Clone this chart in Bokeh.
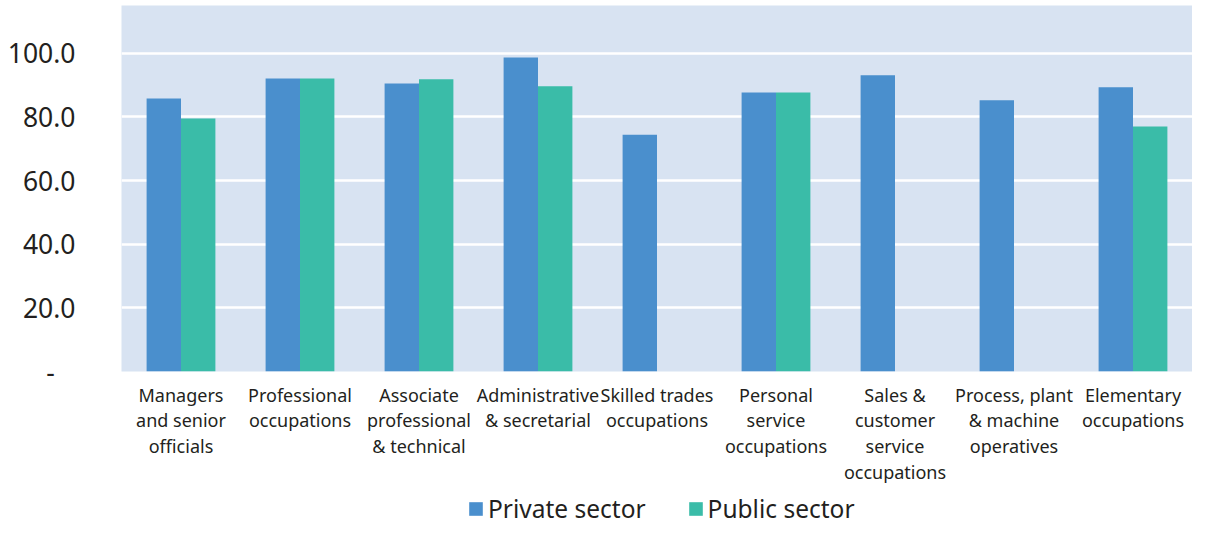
from bokeh.plotting import figure
from bokeh.models import ColumnDataSource, Legend, LegendItem, FixedTicker, NumeralTickFormatter, Range1d
from bokeh.layouts import column
from bokeh.transform import dodge
from bokeh.embed import file_html
from bokeh.resources import INLINE

categories = [
    "Managers\nand senior\nofficials",
    "Professional\noccupations",
    "Associate\nprofessional\n& technical",
    "Administrative\n& secretarial",
    "Skilled trades\noccupations",
    "Personal\nservice\noccupations",
    "Sales &\ncustomer\nservice\noccupations",
    "Process, plant\n& machine\noperatives",
    "Elementary\noccupations",
]
private_sector = [85.8, 92.1, 90.5, 98.7, 74.4, 87.7, 93.1, 85.2, 89.3]
public_sector = [79.5, 92.1, 91.8, 89.6, None, 87.7, None, None, 77.0]
y_ticks = [0, 20, 40, 60, 80, 100]
series_names = ["Private sector", "Public sector"]

FONT = "Noto Sans"
TXT = "#231F20"
C_PRIV = "#4A8FCD"
C_PUB = "#3ABCA8"

H1 = 490
p = figure(x_range=categories, y_range=Range1d(0, 115), width=1192, height=H1,
           output_backend="svg", toolbar_location=None,
           min_border_left=121, min_border_right=0, min_border_top=5,
           min_border_bottom=H1 - 371)

priv_src = ColumnDataSource(dict(cat=categories, val=private_sector))
pub_cats = [c for c, v in zip(categories, public_sector) if v is not None]
pub_vals = [v for v in public_sector if v is not None]
pub_src = ColumnDataSource(dict(cat=pub_cats, val=pub_vals))

p.vbar(x=dodge("cat", -0.1445, range=p.x_range), top="val", width=0.289,
       source=priv_src, fill_color=C_PRIV, line_color=None)
p.vbar(x=dodge("cat", 0.1445, range=p.x_range), top="val", width=0.289,
       source=pub_src, fill_color=C_PUB, line_color=None)

p.background_fill_color = "#D8E3F2"
p.border_fill_color = "white"
p.outline_line_color = None
p.xgrid.grid_line_color = None
p.ygrid.grid_line_color = "white"
p.ygrid.grid_line_width = 2.5

p.yaxis.ticker = FixedTicker(ticks=y_ticks)
p.yaxis.formatter = NumeralTickFormatter(format="0.0")
p.yaxis.major_label_overrides = {0: "-\u00a0\u00a0\u00a0"}
for ax in (p.xaxis, p.yaxis):
    ax.axis_line_color = None
    ax.major_tick_line_color = None
    ax.minor_tick_line_color = None
    ax.major_tick_out = 0
    ax.major_tick_in = 0
    ax.major_label_text_font = FONT
    ax.major_label_text_color = TXT
p.yaxis.major_label_text_font_size = "26.5px"
p.yaxis.major_label_standoff = 46
p.xaxis.major_label_text_font_size = "18px"
p.xaxis.major_label_standoff = 11
p.xaxis.major_label_text_line_height = 1.07

# legend strip (frames of the column are aligned, so its frame starts at x=121)
H2 = 526 - H1
pl = figure(width=1192, height=H2, output_backend="svg", toolbar_location=None,
            x_range=Range1d(0, 1), y_range=Range1d(0, 1),
            min_border=0, min_border_left=0, min_border_right=0,
            min_border_top=0, min_border_bottom=0)
pl.axis.visible = False
pl.grid.visible = False
pl.outline_line_color = None
pl.background_fill_color = "white"
pl.border_fill_color = "white"
nan = float("nan")
d1 = pl.vbar(x=[nan], top=[nan], width=0.1, fill_color=C_PRIV, line_color=None)
d2 = pl.vbar(x=[nan], top=[nan], width=0.1, fill_color=C_PUB, line_color=None)

legend = Legend(items=[LegendItem(label=series_names[0], renderers=[d1]),
                       LegendItem(label=series_names[1], renderers=[d2])],
                orientation="horizontal", location=(346, 1),
                glyph_width=17, glyph_height=17, label_height=17,
                label_text_font=FONT, label_text_font_size="24.5px", label_text_color=TXT,
                label_standoff=4, spacing=41, padding=0, margin=0,
                border_line_color=None, background_fill_alpha=0)
pl.add_layout(legend, "center")

layout = column(p, pl, spacing=0)
open("out.html", "w").write(file_html(layout, INLINE))
